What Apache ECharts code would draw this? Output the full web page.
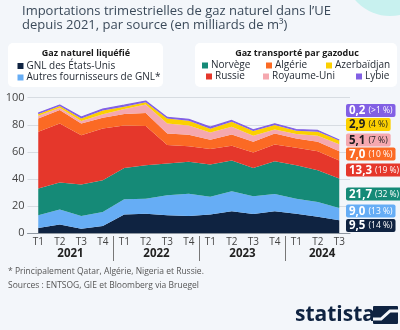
<!DOCTYPE html>
<html>
<head>
<meta charset="utf-8">
<script src="https://cdn.jsdelivr.net/npm/echarts@6/dist/echarts.min.js"></script>
<style>
  html, body { margin: 0; padding: 0; background: #f3f6fa; }
  #chart { width: 400px; height: 330px; }
</style>
</head>
<body>
<div id="chart"></div>
<script>
// Quarterly EU natural gas imports by source, billion m³
const quarters = ['T1', 'T2', 'T3', 'T4', 'T1', 'T2', 'T3', 'T4', 'T1', 'T2', 'T3', 'T4', 'T1', 'T2', 'T3'];
const years = ['2021', '2022', '2023', '2024'];

const usLng      = [3.7, 6.2, 3.2, 5.2, 13.6, 14.3, 13.1, 12.6, 13.6, 16.0, 14.1, 16.0, 14.3, 12.1, 9.5];
const otherLng   = [9.4, 11.1, 9.4, 10.4, 11.3, 11.1, 14.8, 16.5, 13.1, 14.9, 13.1, 12.9, 11.1, 10.9, 9.0];
const norway     = [19.7, 20.0, 23.2, 23.4, 23.1, 24.7, 23.5, 23.5, 23.9, 22.7, 20.9, 24.2, 24.7, 23.4, 21.7];
const russia     = [42.0, 43.7, 36.5, 38.3, 31.5, 28.9, 13.6, 11.6, 11.5, 10.8, 11.4, 12.3, 12.9, 14.1, 13.3];
const algeria    = [9.9, 9.9, 8.7, 7.9, 8.5, 9.6, 8.5, 8.4, 6.9, 8.4, 7.9, 8.2, 6.9, 6.9, 7.0];
const uk         = [2.0, 1.7, 1.7, 2.5, 3.7, 6.4, 7.5, 6.9, 5.2, 5.7, 4.5, 2.9, 3.2, 4.5, 5.1];
const azerbaijan = [1.2, 1.2, 2.0, 2.9, 1.7, 1.7, 3.6, 3.5, 2.8, 3.7, 3.4, 3.3, 2.5, 2.9, 2.9];
const libya      = [0.7, 0.8, 1.0, 1.0, 1.1, 0.8, 0.8, 1.0, 1.3, 1.0, 1.0, 0.9, 0.9, 1.0, 0.2];

const seriesNames = ['GNL des États-Unis', 'Autres fournisseurs de GNL*', 'Norvège', 'Russie',
                     'Algérie', 'Royaume-Uni', 'Azerbaïdjan', 'Lybie'];
const seriesValues = [usLng, otherLng, norway, russia, algeria, uk, azerbaijan, libya];
const colors = ['#0f2341', '#66adf5', '#158a77', '#e5372b', '#fb6a24', '#f5a8af', '#fcd000', '#8260e4'];
const labelTextColors = ['#fff', '#fff', '#fff', '#fff', '#fff', '#1d1d1d', '#1d1d1d', '#fff'];
// vertical centres of the end-of-series value tags, stacked bottom to top
const labelY = [225.5, 211, 194, 170, 154, 140, 124.5, 110.5];

const FONT = '"Open Sans", "Noto Sans", sans-serif';
const last = quarters.length - 1;
const lastTotal = seriesValues.reduce((s, arr) => s + arr[last], 0);

function fmtNumber(v) { return v.toFixed(1).replace('.', ','); }
function fmtShare(v) {
  const p = v / lastTotal * 100;
  return p < 1 ? '>1 %' : Math.round(p) + ' %';
}

const series = seriesValues.map((vals, i) => ({
  name: seriesNames[i],
  type: 'line',
  stack: 'total',
  xAxisIndex: 0,
  yAxisIndex: 0,
  symbol: 'circle',
  symbolSize: 0.01,
  showSymbol: true,
  silent: true,
  color: colors[i],
  itemStyle: { color: colors[i] },
  lineStyle: { width: i === seriesValues.length - 1 ? 1.2 : 0, color: colors[i] },
  areaStyle: { color: colors[i], opacity: 1 },
  label: {
    show: false,
    formatter: p => `{v|${fmtNumber(p.value)}} {p|(${fmtShare(p.value)})}`,
    backgroundColor: colors[i],
    padding: [1, 3, 0, 3],
    borderRadius: 2,
    rich: {
      v: { fontFamily: FONT, fontSize: 11.5, fontWeight: 'bold', color: labelTextColors[i], lineHeight: 12 },
      p: { fontFamily: FONT, fontSize: 8.5, color: labelTextColors[i], lineHeight: 12 }
    }
  },
  labelLayout: { x: 346, y: labelY[i], align: 'left', verticalAlign: 'middle' },
  data: vals.map((v, j) => j === last ? { value: v, label: { show: true } } : v)
}));

// individual legend entries (name, icon left, row centre)
const legendSpots = [
  ['GNL des États-Unis', 17.5, 66],
  ['Autres fournisseurs de GNL*', 17.5, 77.5],
  ['Norvège', 202, 65.5],
  ['Algérie', 266, 65.5],
  ['Azerbaïdjan', 326, 65.5],
  ['Russie', 206, 76.5],
  ['Royaume-Uni', 263, 76.5],
  ['Lybie', 356, 76.5]
];
const legends = legendSpots.map(([name, left, cy]) => ({
  data: [name],
  left: left,
  top: cy - 6,
  padding: 0,
  itemGap: 0,
  itemWidth: 6,
  itemHeight: 6,
  icon: 'rect',
  selectedMode: false,
  textStyle: { fontFamily: FONT, fontSize: 10, color: '#1f2630', lineHeight: 12, padding: [0, 0, 0, -2] }
}));

const chart = echarts.init(document.getElementById('chart'), null, { renderer: 'canvas' });
chart.setOption({
  backgroundColor: '#f3f6fa',
  animation: false,
  textStyle: { fontFamily: FONT },
  title: {
    text: 'Importations trimestrielles de gaz naturel dans l’UE\ndepuis 2021, par source (en milliards de m³)',
    left: 22,
    top: 4,
    padding: 0,
    textStyle: { fontFamily: FONT, fontSize: 13, fontWeight: 'normal', color: '#3b4a5a', lineHeight: 14.5 }
  },
  legend: legends,
  grid: { left: 27.5, right: 50, top: 97.7, bottom: 97, containLabel: false },
  xAxis: [
    {
      type: 'category',
      data: quarters,
      boundaryGap: true,
      axisLine: { show: true, lineStyle: { color: '#8e97a1', width: 1 } },
      axisTick: { show: false },
      axisLabel: { fontFamily: FONT, fontSize: 10, color: '#444', margin: 4 }
    },
    {
      type: 'value',
      min: -0.5,
      max: 14.5,
      position: 'bottom',
      offset: 3,
      axisLine: { show: false },
      splitLine: { show: false },
      axisTick: { show: true, customValues: [3.5, 7.5, 11.5], length: 25, lineStyle: { color: '#777', width: 1 } },
      axisLabel: {
        customValues: [1.5, 5.5, 9.5, 13.2],
        formatter: v => years[Math.floor((v + 0.5) / 4)],
        fontFamily: FONT, fontSize: 11.5, fontWeight: 'bold', color: '#222', margin: 12
      }
    }
  ],
  yAxis: {
    type: 'value',
    min: 0,
    max: 100,
    interval: 20,
    axisLine: { show: false },
    axisTick: { show: false },
    axisLabel: { fontFamily: FONT, fontSize: 11, color: '#444', margin: 3 },
    splitLine: { lineStyle: { color: '#d7dce2', width: 1 } }
  },
  series: series,
  graphic: [
    { type: 'circle', z: -10, shape: { cx: 390, cy: -30, r: 46 }, style: { fill: '#c8f1ef' } },
    { type: 'rect', z: -5, shape: { x: 8, y: 43, width: 155, height: 44, r: 5 }, style: { fill: '#ffffff' } },
    { type: 'rect', z: -5, shape: { x: 195, y: 43, width: 202, height: 44, r: 5 }, style: { fill: '#ffffff' } },
    { type: 'text', x: 86, y: 53.5, style: { text: 'Gaz naturel liquéfié', font: 'bold 9px ' + FONT, fill: '#1a1a1a', align: 'center', verticalAlign: 'middle' } },
    { type: 'text', x: 297, y: 53.5, style: { text: 'Gaz transporté par gazoduc', font: 'bold 9px ' + FONT, fill: '#1a1a1a', align: 'center', verticalAlign: 'middle' } },
    { type: 'text', x: 8, y: 272, style: { text: '* Principalement Qatar, Algérie, Nigeria et Russie.', font: '8.5px ' + FONT, fill: '#555', verticalAlign: 'middle' } },
    { type: 'text', x: 8, y: 286, style: { text: 'Sources : ENTSOG, GIE et Bloomberg via Bruegel', font: '8.5px ' + FONT, fill: '#555', verticalAlign: 'middle' } },
    { type: 'text', x: 295, y: 315, style: { text: 'statista', font: 'bold 21px ' + FONT, fill: '#0f2341', verticalAlign: 'middle' } },
    { type: 'rect', shape: { x: 373, y: 306, width: 25, height: 18, r: 1 }, style: { fill: '#0f2341' } },
    { type: 'polyline', shape: { points: [[373, 319], [381, 319], [390, 311], [398, 311]] }, style: { stroke: '#f3f6fa', lineWidth: 3, fill: null } }
  ]
});
</script>
</body>
</html>
